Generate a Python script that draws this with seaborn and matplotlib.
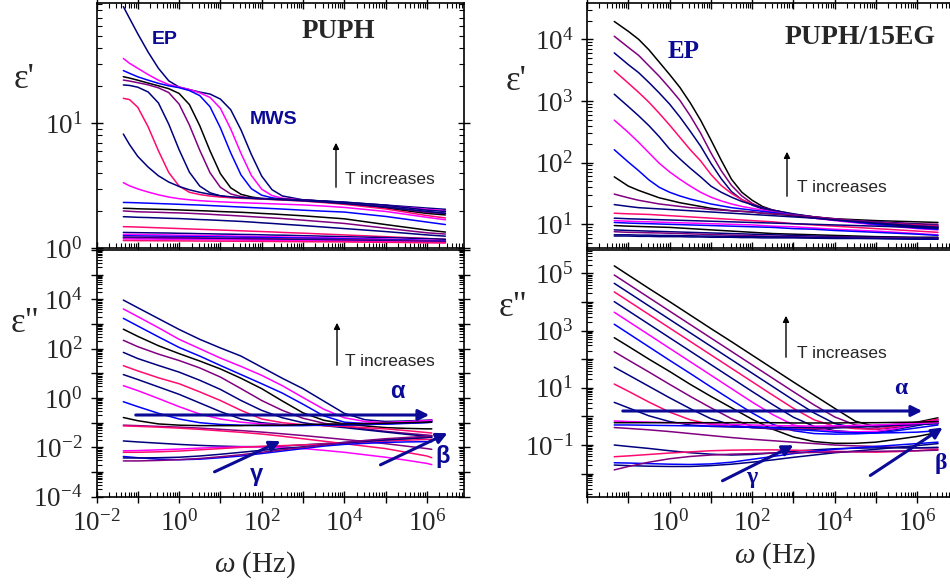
import numpy as np
import pandas as pd
import matplotlib
matplotlib.use("Agg")
import matplotlib.pyplot as plt
from matplotlib.patches import FancyArrowPatch
from matplotlib.ticker import LogLocator, FuncFormatter, NullFormatter
import seaborn as sns

# ---------------------------------------------------------------------------
# Dielectric spectra, stored as log10 values on log10(omega / Hz) grids
# ---------------------------------------------------------------------------
log_w_puph_eps1 = [-1.35, -1.2, -1, -0.75, -0.5, -0.25, 0, 0.25, 0.5, 0.75, 1, 1.25,
                   1.5, 1.75, 2, 2.25, 2.5, 3, 3.5, 4, 5, 6, 6.45]
log_w_puph_eps2 = [-1.35, -1, -0.5, 0, 0.5, 1, 1.5, 2, 2.5, 3, 3.5, 4, 4.5, 5, 5.5, 6, 6.12]
log_w_eg_eps1 = [-1.34, -1, -0.75, -0.5, -0.25, 0, 0.25, 0.5, 0.75, 1, 1.25, 1.5, 1.75,
                 2, 2.25, 2.5, 3, 3.5, 4, 5, 6, 6.5]
log_w_eg_eps2 = [-1.34, -1, -0.5, 0, 0.5, 1, 1.5, 2, 2.5, 3, 3.5, 4, 4.5, 5, 5.5, 6, 6.5]

# PUPH, real part eps'
log_eps1_puph = [
    [1.934, 1.84, 1.716, 1.57, 1.44, 1.34, 1.29, 1.27, 1.25, 1.234, 1.194, 1.109, 0.947, 0.751, 0.578, 0.469, 0.419, 0.388, 0.378, 0.368, 0.346, 0.322, 0.312],
    [1.519, 1.48, 1.44, 1.39, 1.345, 1.31, 1.29, 1.27, 1.244, 1.207, 1.12, 0.955, 0.759, 0.583, 0.473, 0.422, 0.401, 0.386, 0.376, 0.366, 0.342, 0.312, 0.301],
    [1.422, 1.40, 1.372, 1.345, 1.32, 1.30, 1.285, 1.262, 1.222, 1.132, 0.964, 0.764, 0.587, 0.477, 0.425, 0.404, 0.392, 0.384, 0.373, 0.362, 0.332, 0.29, 0.279],
    [1.373, 1.362, 1.345, 1.322, 1.30, 1.277, 1.239, 1.150, 0.981, 0.779, 0.597, 0.484, 0.432, 0.411, 0.398, 0.395, 0.392, 0.386, 0.377, 0.362, 0.322, 0.279, 0.267],
    [1.346, 1.338, 1.325, 1.308, 1.284, 1.246, 1.154, 0.986, 0.785, 0.604, 0.488, 0.435, 0.414, 0.401, 0.398, 0.395, 0.392, 0.386, 0.376, 0.362, 0.332, 0.29, 0.279],
    [1.307, 1.303, 1.289, 1.251, 1.163, 0.993, 0.789, 0.609, 0.498, 0.444, 0.42, 0.407, 0.404, 0.401, 0.398, 0.395, 0.392, 0.386, 0.378, 0.37, 0.345, 0.305, 0.295],
    [1.20, 1.19, 1.128, 0.972, 0.78, 0.606, 0.498, 0.448, 0.43, 0.418, 0.41, 0.405, 0.40, 0.397, 0.394, 0.39, 0.386, 0.378, 0.366, 0.352, 0.315, 0.262, 0.243],
    [0.914, 0.83, 0.735, 0.65, 0.58, 0.53, 0.495, 0.468, 0.448, 0.432, 0.42, 0.412, 0.405, 0.40, 0.396, 0.392, 0.388, 0.38, 0.37, 0.358, 0.33, 0.295, 0.28],
    [0.525, 0.50, 0.475, 0.45, 0.428, 0.41, 0.397, 0.388, 0.381, 0.376, 0.372, 0.368, 0.365, 0.362, 0.359, 0.356, 0.353, 0.347, 0.338, 0.327, 0.295, 0.248, 0.228],
    [0.367, 0.366, 0.364, 0.361, 0.358, 0.355, 0.352, 0.349, 0.346, 0.342, 0.338, 0.334, 0.330, 0.326, 0.322, 0.318, 0.314, 0.305, 0.297, 0.29, 0.255, 0.21, 0.19],
    [0.32, 0.319, 0.316, 0.314, 0.312, 0.31, 0.307, 0.304, 0.301, 0.298, 0.294, 0.291, 0.288, 0.284, 0.279, 0.275, 0.27, 0.26, 0.248, 0.236, 0.19, 0.146, 0.13],
    [0.299, 0.296, 0.292, 0.29, 0.288, 0.285, 0.283, 0.28, 0.276, 0.272, 0.267, 0.263, 0.258, 0.253, 0.248, 0.243, 0.238, 0.225, 0.212, 0.199, 0.161, 0.124, 0.114],
    [0.253, 0.251, 0.248, 0.246, 0.243, 0.24, 0.238, 0.234, 0.23, 0.227, 0.223, 0.219, 0.215, 0.21, 0.204, 0.199, 0.193, 0.182, 0.17, 0.158, 0.134, 0.107, 0.097],
    [0.173, 0.172, 0.17, 0.167, 0.164, 0.161, 0.158, 0.155, 0.152, 0.149, 0.146, 0.143, 0.14, 0.137, 0.134, 0.131, 0.127, 0.121, 0.114, 0.107, 0.093, 0.079, 0.072],
    [0.127, 0.126, 0.125, 0.124, 0.123, 0.122, 0.12, 0.119, 0.117, 0.116, 0.114, 0.113, 0.111, 0.11, 0.108, 0.106, 0.105, 0.101, 0.097, 0.093, 0.086, 0.077, 0.072],
    [0.111, 0.111, 0.11, 0.109, 0.108, 0.107, 0.105, 0.104, 0.103, 0.101, 0.1, 0.099, 0.097, 0.096, 0.094, 0.093, 0.091, 0.088, 0.085, 0.082, 0.074, 0.065, 0.06],
    [0.1, 0.1, 0.099, 0.098, 0.097, 0.096, 0.095, 0.094, 0.093, 0.092, 0.091, 0.09, 0.089, 0.088, 0.087, 0.085, 0.084, 0.082, 0.079, 0.076, 0.07, 0.062, 0.058],
    [0.09, 0.09, 0.089, 0.088, 0.088, 0.087, 0.086, 0.085, 0.084, 0.083, 0.082, 0.081, 0.08, 0.079, 0.078, 0.077, 0.076, 0.074, 0.072, 0.07, 0.065, 0.058, 0.055],
    [0.082, 0.082, 0.081, 0.081, 0.08, 0.079, 0.079, 0.078, 0.077, 0.076, 0.075, 0.074, 0.073, 0.072, 0.071, 0.07, 0.069, 0.067, 0.065, 0.063, 0.058, 0.052, 0.05],
    [0.075, 0.075, 0.074, 0.074, 0.073, 0.072, 0.072, 0.071, 0.07, 0.069, 0.068, 0.067, 0.066, 0.065, 0.064, 0.063, 0.062, 0.06, 0.058, 0.056, 0.052, 0.047, 0.045],
    [0.062, 0.062, 0.061, 0.061, 0.06, 0.06, 0.059, 0.059, 0.058, 0.058, 0.057, 0.057, 0.056, 0.056, 0.055, 0.055, 0.054, 0.053, 0.052, 0.051, 0.048, 0.045, 0.043],
]

# PUPH, imaginary part eps''
log_eps2_puph = [
    [3.97, 3.66, 3.22, 2.78, 2.38, 2.03, 1.70, 1.25, 0.80, 0.38, -0.12, -0.62, -0.88, -0.95, -0.93, -0.90, -0.88],
    [3.61, 3.30, 2.85, 2.38, 2.00, 1.62, 1.28, 0.92, 0.50, 0.02, -0.45, -0.80, -0.95, -1.00, -0.97, -0.92, -0.90],
    [3.23, 2.92, 2.48, 2.05, 1.70, 1.32, 0.95, 0.58, 0.20, -0.25, -0.72, -0.98, -1.03, -1.05, -1.02, -0.98, -0.95],
    [2.79, 2.50, 2.12, 1.80, 1.50, 1.18, 0.80, 0.38, -0.12, -0.60, -0.90, -1.05, -1.13, -1.20, -1.23, -1.25, -1.25],
    [2.34, 2.08, 1.78, 1.52, 1.22, 0.85, 0.38, -0.10, -0.50, -0.82, -1.02, -1.15, -1.25, -1.35, -1.43, -1.50, -1.52],
    [1.85, 1.60, 1.32, 1.05, 0.72, 0.35, -0.10, -0.50, -0.80, -1.00, -1.12, -1.20, -1.29, -1.38, -1.47, -1.55, -1.58],
    [1.31, 1.10, 0.82, 0.58, 0.25, -0.10, -0.50, -0.85, -1.00, -1.08, -1.12, -1.15, -1.20, -1.25, -1.32, -1.40, -1.42],
    [0.95, 0.75, 0.45, 0.15, -0.20, -0.55, -0.85, -1.00, -1.08, -1.10, -1.10, -1.10, -1.08, -1.05, -1.00, -0.95, -0.93],
    [0.50, 0.30, -0.02, -0.35, -0.65, -0.85, -0.98, -1.05, -1.08, -1.08, -1.07, -1.05, -1.03, -1.00, -0.96, -0.92, -0.90],
    [-0.15, -0.35, -0.62, -0.85, -1.00, -1.07, -1.10, -1.12, -1.12, -1.12, -1.10, -1.08, -1.07, -1.05, -1.03, -1.00, -0.98],
    [-0.79, -0.92, -1.05, -1.10, -1.12, -1.12, -1.12, -1.10, -1.10, -1.08, -1.06, -1.05, -1.04, -1.02, -1.00, -0.98, -0.97],
    [-1.10, -1.12, -1.15, -1.18, -1.22, -1.27, -1.32, -1.38, -1.45, -1.52, -1.60, -1.68, -1.76, -1.85, -1.95, -2.05, -2.08],
    [-1.74, -1.78, -1.83, -1.88, -1.92, -1.95, -1.97, -1.97, -1.95, -1.90, -1.85, -1.80, -1.75, -1.70, -1.65, -1.60, -1.58],
    [-1.13, -1.15, -1.18, -1.22, -1.27, -1.33, -1.39, -1.46, -1.55, -1.65, -1.75, -1.85, -1.95, -2.05, -2.20, -2.35, -2.42],
    [-2.14, -2.13, -2.10, -2.07, -2.03, -2.00, -1.98, -1.98, -2.00, -2.05, -2.12, -2.20, -2.30, -2.40, -2.52, -2.65, -2.70],
    [-2.20, -2.20, -2.18, -2.15, -2.10, -2.05, -2.00, -1.96, -1.93, -1.90, -1.87, -1.83, -1.79, -1.75, -1.71, -1.68, -1.67],
    [-2.37, -2.42, -2.48, -2.50, -2.48, -2.42, -2.35, -2.25, -2.15, -2.05, -1.95, -1.88, -1.84, -1.80, -1.78, -1.77, -1.77],
    [-2.43, -2.43, -2.42, -2.40, -2.35, -2.28, -2.20, -2.12, -2.05, -1.98, -1.90, -1.82, -1.76, -1.70, -1.65, -1.60, -1.58],
    [-2.55, -2.55, -2.53, -2.50, -2.45, -2.38, -2.30, -2.20, -2.10, -2.00, -1.90, -1.80, -1.72, -1.65, -1.60, -1.55, -1.53],
]

# PUPH/15EG, real part eps'
log_eps1_eg = [
    [4.29, 4.13, 4.0, 3.83, 3.63, 3.43, 3.22, 2.97, 2.69, 2.37, 2.04, 1.73, 1.52, 1.39, 1.29, 1.23, 1.16, 1.12, 1.09, 1.06, 1.04, 1.03],
    [4.05, 3.87, 3.74, 3.57, 3.4, 3.21, 3.01, 2.76, 2.48, 2.16, 1.87, 1.63, 1.46, 1.34, 1.26, 1.2, 1.14, 1.1, 1.07, 1.04, 1.01, 1.0],
    [3.78, 3.59, 3.46, 3.3, 3.13, 2.95, 2.74, 2.51, 2.27, 1.99, 1.74, 1.53, 1.4, 1.31, 1.25, 1.21, 1.15, 1.11, 1.08, 1.04, 1.0, 0.98],
    [3.49, 3.29, 3.14, 2.98, 2.8, 2.61, 2.41, 2.21, 2.03, 1.81, 1.63, 1.5, 1.4, 1.33, 1.27, 1.23, 1.16, 1.12, 1.08, 1.03, 0.99, 0.97],
    [3.11, 2.91, 2.76, 2.6, 2.42, 2.22, 2.06, 1.91, 1.77, 1.62, 1.52, 1.44, 1.37, 1.32, 1.27, 1.23, 1.17, 1.12, 1.08, 1.02, 0.97, 0.95],
    [2.69, 2.49, 2.33, 2.16, 1.99, 1.85, 1.73, 1.62, 1.52, 1.44, 1.38, 1.33, 1.29, 1.26, 1.23, 1.2, 1.15, 1.1, 1.06, 0.99, 0.93, 0.91],
    [2.21, 2.01, 1.87, 1.72, 1.6, 1.52, 1.46, 1.41, 1.37, 1.33, 1.3, 1.27, 1.25, 1.23, 1.21, 1.19, 1.15, 1.11, 1.07, 1.0, 0.94, 0.92],
    [1.77, 1.62, 1.55, 1.49, 1.43, 1.39, 1.35, 1.32, 1.29, 1.26, 1.24, 1.22, 1.21, 1.2, 1.18, 1.17, 1.14, 1.11, 1.08, 1.02, 0.96, 0.94],
    [1.49, 1.43, 1.39, 1.36, 1.33, 1.31, 1.29, 1.27, 1.26, 1.24, 1.23, 1.22, 1.21, 1.2, 1.18, 1.17, 1.15, 1.12, 1.09, 1.03, 0.98, 0.96],
    [1.32, 1.29, 1.27, 1.26, 1.25, 1.24, 1.23, 1.22, 1.21, 1.2, 1.19, 1.18, 1.17, 1.16, 1.15, 1.14, 1.12, 1.1, 1.07, 1.02, 0.97, 0.95],
    [1.18, 1.17, 1.165, 1.16, 1.15, 1.14, 1.13, 1.12, 1.11, 1.1, 1.09, 1.08, 1.07, 1.06, 1.05, 1.04, 1.01, 0.99, 0.97, 0.93, 0.89, 0.87],
    [1.10, 1.09, 1.085, 1.08, 1.075, 1.07, 1.065, 1.06, 1.055, 1.05, 1.045, 1.04, 1.035, 1.03, 1.025, 1.02, 1.01, 1.0, 0.99, 0.97, 0.95, 0.94],
    [1.06, 1.05, 1.045, 1.04, 1.035, 1.03, 1.025, 1.02, 1.015, 1.01, 1.005, 1.0, 0.995, 0.99, 0.98, 0.97, 0.96, 0.94, 0.92, 0.89, 0.85, 0.83],
    [1.03, 1.02, 1.015, 1.01, 1.005, 1.0, 0.995, 0.99, 0.985, 0.98, 0.975, 0.97, 0.965, 0.96, 0.955, 0.95, 0.93, 0.92, 0.9, 0.87, 0.84, 0.82],
    [0.98, 0.97, 0.965, 0.96, 0.955, 0.95, 0.94, 0.93, 0.92, 0.91, 0.9, 0.89, 0.88, 0.87, 0.86, 0.85, 0.84, 0.83, 0.82, 0.8, 0.79, 0.79],
    [0.91, 0.9, 0.895, 0.89, 0.885, 0.88, 0.875, 0.87, 0.865, 0.86, 0.855, 0.85, 0.845, 0.84, 0.835, 0.83, 0.82, 0.81, 0.8, 0.79, 0.78, 0.78],
    [0.88, 0.87, 0.867, 0.863, 0.86, 0.855, 0.85, 0.845, 0.84, 0.835, 0.83, 0.825, 0.82, 0.815, 0.81, 0.805, 0.8, 0.79, 0.79, 0.78, 0.77, 0.77],
    [0.83, 0.83, 0.825, 0.825, 0.82, 0.82, 0.815, 0.815, 0.81, 0.81, 0.805, 0.805, 0.8, 0.8, 0.8, 0.795, 0.79, 0.785, 0.78, 0.77, 0.76, 0.76],
    [0.81, 0.81, 0.805, 0.805, 0.8, 0.8, 0.8, 0.795, 0.795, 0.79, 0.79, 0.79, 0.785, 0.785, 0.78, 0.78, 0.78, 0.775, 0.77, 0.77, 0.76, 0.76],
]

# PUPH/15EG, imaginary part eps''
log_eps2_eg = [
    [5.26, 4.94, 4.47, 4.01, 3.54, 3.07, 2.61, 2.14, 1.67, 1.20, 0.74, 0.28, -0.17, -0.36, -0.30, -0.20, -0.05],
    [4.94, 4.62, 4.15, 3.68, 3.21, 2.74, 2.27, 1.80, 1.33, 0.86, 0.40, -0.02, -0.30, -0.38, -0.33, -0.25, -0.10],
    [4.65, 4.33, 3.86, 3.39, 2.92, 2.45, 1.98, 1.51, 1.04, 0.57, 0.12, -0.25, -0.40, -0.45, -0.38, -0.28, -0.15],
    [4.35, 4.03, 3.56, 3.09, 2.62, 2.15, 1.68, 1.21, 0.74, 0.28, -0.12, -0.35, -0.43, -0.45, -0.35, -0.22, -0.10],
    [4.01, 3.69, 3.22, 2.75, 2.28, 1.81, 1.34, 0.87, 0.41, -0.03, -0.35, -0.50, -0.55, -0.55, -0.45, -0.32, -0.20],
    [3.64, 3.32, 2.85, 2.38, 1.91, 1.44, 0.97, 0.50, 0.06, -0.30, -0.45, -0.52, -0.54, -0.52, -0.42, -0.27, -0.15],
    [3.22, 2.90, 2.43, 1.96, 1.50, 1.03, 0.57, 0.12, -0.28, -0.50, -0.60, -0.62, -0.61, -0.58, -0.50, -0.40, -0.30],
    [2.75, 2.45, 2.00, 1.57, 1.12, 0.70, 0.30, -0.10, -0.45, -0.72, -0.88, -0.94, -0.94, -0.90, -0.80, -0.70, -0.56],
    [2.26, 1.97, 1.55, 1.12, 0.70, 0.30, -0.08, -0.35, -0.45, -0.47, -0.45, -0.40, -0.36, -0.32, -0.28, -0.25, -0.20],
    [1.72, 1.45, 1.05, 0.65, 0.27, -0.08, -0.30, -0.40, -0.43, -0.44, -0.43, -0.40, -0.38, -0.35, -0.31, -0.28, -0.25],
    [1.13, 0.88, 0.50, 0.15, -0.12, -0.28, -0.35, -0.38, -0.40, -0.40, -0.40, -0.38, -0.35, -0.32, -0.28, -0.25, -0.20],
    [0.49, 0.30, 0.02, -0.18, -0.30, -0.35, -0.37, -0.38, -0.38, -0.38, -0.38, -0.37, -0.35, -0.33, -0.30, -0.28, -0.25],
    [-0.16, -0.18, -0.20, -0.22, -0.24, -0.26, -0.28, -0.30, -0.32, -0.33, -0.34, -0.33, -0.32, -0.30, -0.27, -0.25, -0.22],
    [-0.22, -0.22, -0.22, -0.22, -0.22, -0.22, -0.22, -0.22, -0.22, -0.23, -0.23, -0.23, -0.22, -0.22, -0.21, -0.20, -0.18],
    [-0.30, -0.30, -0.31, -0.32, -0.33, -0.34, -0.35, -0.37, -0.40, -0.45, -0.50, -0.55, -0.57, -0.58, -0.57, -0.55, -0.50],
    [-0.39, -0.42, -0.47, -0.53, -0.60, -0.67, -0.74, -0.80, -0.85, -0.90, -0.95, -1.00, -1.03, -1.05, -1.08, -1.10, -1.10],
    [-1.00, -1.05, -1.12, -1.20, -1.27, -1.32, -1.35, -1.33, -1.28, -1.22, -1.17, -1.13, -1.11, -1.10, -1.10, -1.10, -1.08],
    [-1.41, -1.38, -1.33, -1.28, -1.24, -1.20, -1.18, -1.17, -1.17, -1.18, -1.20, -1.22, -1.24, -1.25, -1.23, -1.20, -1.15],
    [-1.62, -1.63, -1.65, -1.67, -1.68, -1.66, -1.60, -1.50, -1.40, -1.30, -1.22, -1.15, -1.10, -1.05, -1.00, -0.95, -0.90],
    [-1.70, -1.72, -1.74, -1.75, -1.75, -1.72, -1.67, -1.60, -1.52, -1.43, -1.35, -1.27, -1.21, -1.15, -1.08, -1.02, -0.95],
    [-1.87, -1.75, -1.60, -1.48, -1.40, -1.35, -1.32, -1.30, -1.28, -1.27, -1.26, -1.25, -1.23, -1.22, -1.21, -1.20, -1.18],
]

# line colours, one per curve (highest temperature first)
NV, MG, BL, BK, PU, PR = "#00007f", "#ff00ff", "#0000ff", "#000000", "#800080", "#ff0a6e"
colors_eps1_puph = [NV, MG, BL, BK, PU, NV, PR, NV, MG, BL, BK, PU, NV, PR, NV, MG, BL, PU, NV, MG, PR]
colors_eps2_puph = [NV, MG, BL, BK, PU, NV, PR, NV, MG, BL, BK, PU, NV, PR, MG, PR, BL, NV, PU]
colors_eps1_eg = [BK, PU, NV, PR, NV, MG, BL, BK, PU, NV, PR, NV, MG, BL, BK, NV, PU, NV, NV]
colors_eps2_eg = [BK, PU, NV, PR, NV, MG, BL, BK, PU, NV, PR, NV, MG, BK, BL, PU, NV, PR, BL, NV, PU]

# tick-label exponents shown on each axis
xlab_left = [-2, 0, 2, 4, 6]
xlab_right = [0, 2, 4, 6]
ylab_eps1_puph = [0, 1]
ylab_eps2_puph = [-4, -2, 0, 2, 4]
ylab_eps1_eg = [1, 2, 3, 4]
ylab_eps2_eg = [-1, 1, 3, 5]

# ---------------------------------------------------------------------------
sns.set_style("ticks")
plt.rcParams["font.family"] = ["Liberation Serif", "DejaVu Serif"]
plt.rcParams["mathtext.fontset"] = "custom"
plt.rcParams["mathtext.rm"] = "Liberation Serif"
plt.rcParams["mathtext.it"] = "Liberation Serif:italic"
plt.rcParams["mathtext.bf"] = "Liberation Serif:bold"

W, H = 950, 584
fig = plt.figure(figsize=(W / 100, H / 100), dpi=100)


def px(x, y):
    """figure-pixel position (origin top-left) -> figure fraction"""
    return x / W, 1 - y / H


def box(left, top, right, bottom):
    return [left / W, 1 - bottom / H, (right - left) / W, (bottom - top) / H]


def long_frame(log_w, rows):
    recs = []
    for i, row in enumerate(rows):
        assert len(row) == len(log_w)
        for lw_, le in zip(log_w, row):
            recs.append((10.0 ** lw_, 10.0 ** le, f"c{i:02d}"))
    return pd.DataFrame(recs, columns=["omega", "eps", "curve"])


def exp_formatter(shown):
    def fmt(v, pos):
        if v <= 0:
            return ""
        e = int(round(np.log10(v)))
        if abs(np.log10(v) - e) > 1e-6 or e not in shown:
            return ""
        return f"$10^{{{e}}}$"
    return FuncFormatter(fmt)


def draw_panel(rect, log_w, rows, colors, ylim, ylabels, xlabels, top_panel, right_ticks):
    ax = fig.add_axes(rect)
    df = long_frame(log_w, rows)
    order = sorted(df["curve"].unique())
    sns.lineplot(data=df, x="omega", y="eps", hue="curve", hue_order=order,
                 palette=colors, legend=False, ax=ax, linewidth=1.1,
                 estimator=None)
    ax.set_xscale("log")
    ax.set_yscale("log")
    ax.set_xlim(1e-2, 10 ** 6.9)
    ax.set_ylim(*ylim)
    for axis in (ax.xaxis, ax.yaxis):
        axis.set_major_locator(LogLocator(base=10, numticks=40))
        axis.set_minor_locator(LogLocator(base=10, subs=np.arange(2, 10), numticks=40))
        axis.set_minor_formatter(NullFormatter())
    ax.yaxis.set_major_formatter(exp_formatter(ylabels))
    if top_panel:
        ax.xaxis.set_major_formatter(NullFormatter())
    else:
        ax.xaxis.set_major_formatter(exp_formatter(xlabels))
    ax.tick_params(which="major", direction="inout", length=9, width=1.0,
                   labelsize=19.5, pad=5.5, top=top_panel, right=right_ticks, color="black")
    ax.tick_params(which="minor", direction="in", length=3.5, width=0.8,
                   top=top_panel, right=right_ticks, color="black")
    ax.set_xlabel("")
    ax.set_ylabel("")
    for s in ax.spines.values():
        s.set_linewidth(1.2)
        s.set_color("black")
    return ax


ax_tl = draw_panel(box(96.5, 2.7, 464, 248.3), log_w_puph_eps1, log_eps1_puph,
                   colors_eps1_puph, (1.0, 10 ** 1.965), ylab_eps1_puph, xlab_left, True, True)
ax_bl = draw_panel(box(96.5, 250.0, 464, 496.7), log_w_puph_eps2, log_eps2_puph,
                   colors_eps2_puph, (1e-4, 1e6), ylab_eps2_puph, xlab_left, False, True)
ax_tr = draw_panel(box(587, 2.7, 954.5, 248.3), log_w_eg_eps1, log_eps1_eg,
                   colors_eps1_eg, (10 ** 0.611, 10 ** 4.594), ylab_eps1_eg, xlab_right, True, False)
ax_br = draw_panel(box(587, 250.0, 954.5, 496.7), log_w_eg_eps2, log_eps2_eg,
                   colors_eps2_eg, (10 ** -2.806, 10 ** 5.814), ylab_eps2_eg, xlab_right, False, False)

# axis titles
for (x, y), s in [((24, 80), "ε'"), ((25.5, 324), 'ε"'), ((516, 82), "ε'"), ((513, 307), 'ε"')]:
    fig.text(*px(x, y), s, fontsize=25, ha="center", va="center")
fig.text(*px(255, 565), r"$\omega$ (Hz)", fontsize=21, ha="center", va="center")
fig.text(*px(775, 556), r"$\omega$ (Hz)", fontsize=21, ha="center", va="center")

# sample names
fig.text(*px(338, 31), "PUPH", fontsize=19.5, fontweight="bold", ha="center", va="center")
fig.text(*px(860, 37.5), "PUPH/15EG", fontsize=20, fontweight="bold", ha="center", va="center")

TXT = "#0a0a96"
sans = ["Liberation Sans", "DejaVu Sans"]
fig.text(*px(164.5, 39.5), "EP", fontsize=14, fontweight="bold", color=TXT,
         family=sans, ha="center", va="center")
fig.text(*px(274, 120), "MWS", fontsize=14, fontweight="bold", color=TXT,
         family=sans, ha="center", va="center")
fig.text(*px(684, 52), "EP", fontsize=18, fontweight="bold", color=TXT,
         ha="center", va="center")

# temperature arrows
for (ax_x, y0, y1), (tx, ty) in [((336, 190, 140), (345, 180)),
                                  ((337, 368, 320), (345, 361.5)),
                                  ((787, 199, 149), (797, 188)),
                                  ((786, 360, 313), (797, 354))]:
    fig.add_artist(FancyArrowPatch(
        px(ax_x, y0), px(ax_x, y1), transform=fig.transFigure,
        arrowstyle="-|>", mutation_scale=9, lw=1.0, color="black"))
    fig.text(*px(tx, ty), "T increases", fontsize=12.5, family=sans,
             ha="left", va="center")

# relaxation markers
for (x0, y0, x1, y1) in [(133, 415, 432, 415), (212, 473, 283, 440), (378, 466, 450, 432),
                         (620, 411, 925, 411), (720, 482, 796, 444), (868, 477, 945, 426)]:
    fig.add_artist(FancyArrowPatch(
        px(x0, y0), px(x1, y1), transform=fig.transFigure,
        arrowstyle="-|>", mutation_scale=16, lw=2.2, color=TXT))

for (x, y), s, fam in [((397.5, 391.5), "α", sans), ((256, 475), "γ", sans), ((443, 457), "β", sans),
                       ((901, 389), "α", None), ((752, 478), "γ", None), ((941, 464), "β", None)]:
    kw = dict(fontsize=17, fontweight="bold", color=TXT, ha="center", va="center")
    if fam:
        kw["family"] = fam
    fig.text(*px(x, y), s, **kw)

fig.savefig("out.png", dpi=100)
